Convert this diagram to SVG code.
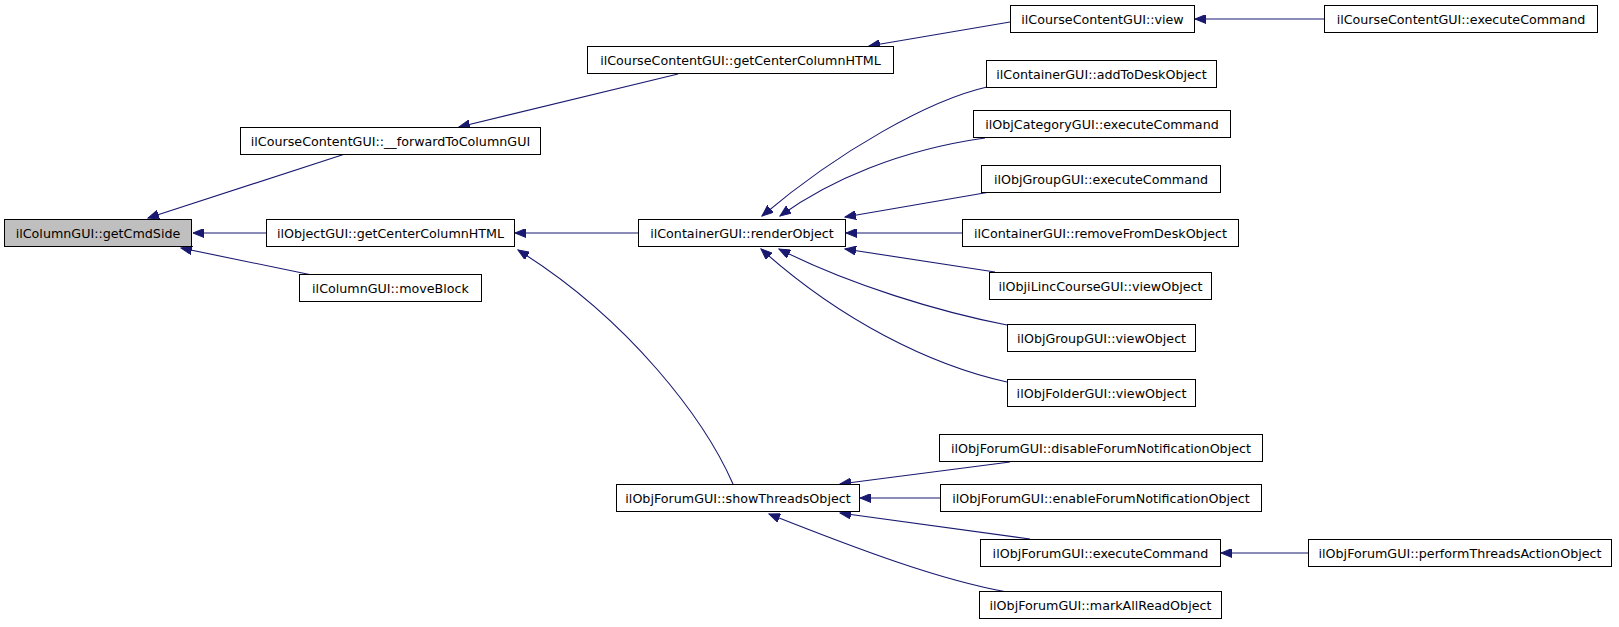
<svg xmlns="http://www.w3.org/2000/svg" width="1619" height="627" viewBox="0 0 1619 627">
<style>
.n rect{fill:#ffffff;stroke:#000000;stroke-width:1}
.n.root rect{fill:#bfbfbf}
.n text{font-family:"DejaVu Sans","Liberation Sans",sans-serif;font-size:12.7px;fill:#000000;text-anchor:middle}
.e path{fill:none;stroke:#191970;stroke-width:1.1;marker-end:url(#ah)}
</style>
<defs>
<marker id="ah" markerUnits="userSpaceOnUse" markerWidth="12" markerHeight="9" refX="11" refY="4.5" orient="auto">
<path d="M0,0 L11,4.5 L0,9 z" fill="#191970" stroke="#191970" stroke-width="1"/>
</marker>
</defs>
<rect x="0" y="0" width="1619" height="627" fill="#ffffff"/>
<g id="edges" class="e">
<path d="M345,154 L148,218"/>
<path d="M266,233 L193,233"/>
<path d="M312,275 L181,248"/>
<path d="M678,74 L459,127"/>
<path d="M1010,22 L869,46"/>
<path d="M1324,19 L1195,19"/>
<path d="M638,233 L515,233"/>
<path d="M733,484 C705,420 630,320 518,250"/>
<path d="M987,87 C930,100 840,150 762,216"/>
<path d="M985,138 C900,150 830,180 780,216"/>
<path d="M990,192 L845,217"/>
<path d="M962,233 L846,233"/>
<path d="M995,272 L845,249"/>
<path d="M1007,325 C940,312 850,285 779,249"/>
<path d="M1007,382 C930,365 840,320 761,249"/>
<path d="M1010,462 L840,484"/>
<path d="M940,498 L860,498"/>
<path d="M1030,539 L840,513"/>
<path d="M1007,592 C940,580 860,550 769,514"/>
<path d="M1308,553 L1221,553"/>
</g>
<g id="n1" class="n root"><rect x="4.5" y="219.5" width="187" height="27"/><text x="98" y="237.5">ilColumnGUI::getCmdSide</text></g>
<g id="n2" class="n"><rect x="240.5" y="127.5" width="300" height="27"/><text x="390.5" y="145.5">ilCourseContentGUI::__forwardToColumnGUI</text></g>
<g id="n3" class="n"><rect x="266.5" y="219.5" width="248" height="27"/><text x="390.5" y="237.5">ilObjectGUI::getCenterColumnHTML</text></g>
<g id="n4" class="n"><rect x="299.5" y="274.5" width="182" height="27"/><text x="390.5" y="292.5">ilColumnGUI::moveBlock</text></g>
<g id="n5" class="n"><rect x="587.5" y="46.5" width="306" height="27"/><text x="740.5" y="64.5">ilCourseContentGUI::getCenterColumnHTML</text></g>
<g id="n6" class="n"><rect x="638.5" y="219.5" width="207" height="27"/><text x="742" y="237.5">ilContainerGUI::renderObject</text></g>
<g id="n7" class="n"><rect x="616.5" y="484.5" width="243" height="27"/><text x="738" y="502.5">ilObjForumGUI::showThreadsObject</text></g>
<g id="n8" class="n"><rect x="1010.5" y="5.5" width="184" height="27"/><text x="1102.5" y="23.5">ilCourseContentGUI::view</text></g>
<g id="n9" class="n"><rect x="1324.5" y="5.5" width="273" height="27"/><text x="1461" y="23.5">ilCourseContentGUI::executeCommand</text></g>
<g id="n10" class="n"><rect x="986.5" y="60.5" width="230" height="27"/><text x="1101.5" y="78.5">ilContainerGUI::addToDeskObject</text></g>
<g id="n11" class="n"><rect x="973.5" y="110.5" width="257" height="27"/><text x="1102" y="128.5">ilObjCategoryGUI::executeCommand</text></g>
<g id="n12" class="n"><rect x="981.5" y="165.5" width="239" height="27"/><text x="1101" y="183.5">ilObjGroupGUI::executeCommand</text></g>
<g id="n13" class="n"><rect x="962.5" y="219.5" width="276" height="27"/><text x="1100.5" y="237.5">ilContainerGUI::removeFromDeskObject</text></g>
<g id="n14" class="n"><rect x="989.5" y="272.5" width="222" height="27"/><text x="1100.5" y="290.5">ilObjiLincCourseGUI::viewObject</text></g>
<g id="n15" class="n"><rect x="1007.5" y="324.5" width="188" height="27"/><text x="1101.5" y="342.5">ilObjGroupGUI::viewObject</text></g>
<g id="n16" class="n"><rect x="1007.5" y="379.5" width="188" height="27"/><text x="1101.5" y="397.5">ilObjFolderGUI::viewObject</text></g>
<g id="n17" class="n"><rect x="939.5" y="434.5" width="323" height="27"/><text x="1101" y="452.5">ilObjForumGUI::disableForumNotificationObject</text></g>
<g id="n18" class="n"><rect x="940.5" y="484.5" width="321" height="27"/><text x="1101" y="502.5">ilObjForumGUI::enableForumNotificationObject</text></g>
<g id="n19" class="n"><rect x="980.5" y="539.5" width="240" height="27"/><text x="1100.5" y="557.5">ilObjForumGUI::executeCommand</text></g>
<g id="n20" class="n"><rect x="979.5" y="591.5" width="242" height="27"/><text x="1100.5" y="609.5">ilObjForumGUI::markAllReadObject</text></g>
<g id="n21" class="n"><rect x="1308.5" y="539.5" width="303" height="27"/><text x="1460" y="557.5">ilObjForumGUI::performThreadsActionObject</text></g>
</svg>
